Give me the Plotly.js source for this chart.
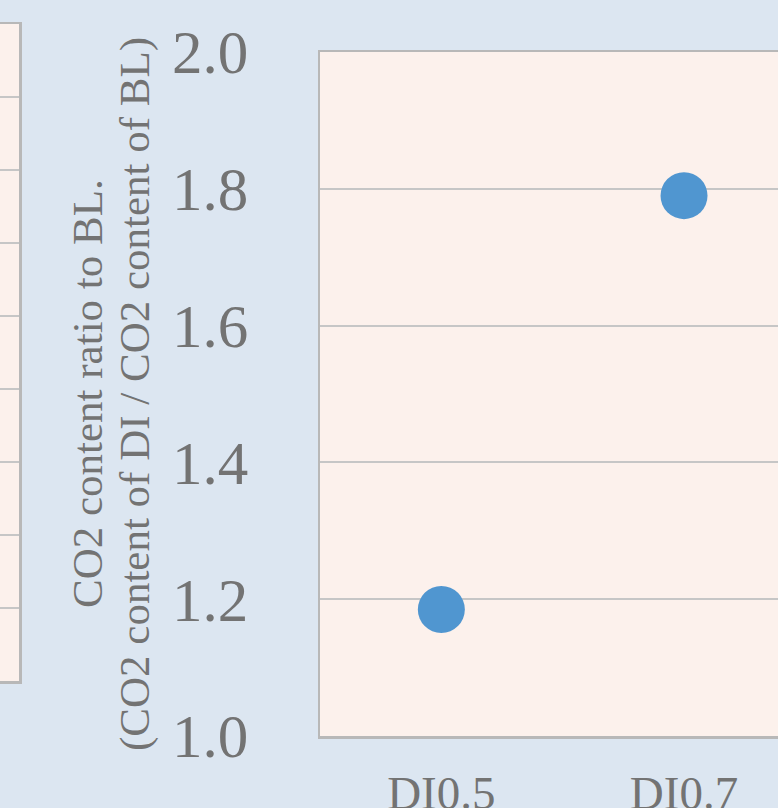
<!DOCTYPE html>
<html>
<head>
<meta charset="utf-8">
<script src="https://cdn.plot.ly/plotly-3.0.1.min.js"></script>
<style>
  html, body { margin: 0; padding: 0; overflow: hidden; background: #dce6f1; }
  #chart { position: absolute; left: -200px; top: 0; width: 1100px; height: 808px; }
</style>
</head>
<body>
<div id="chart"></div>
<script>
// values
var categories = ["DI0.5", "DI0.7"];
var co2Ratio = [1.185, 1.79];
var titleLines = ["CO2 content ratio to BL.", "(CO2 content of DI / CO2 content of BL)"];

var fontFamily = "Liberation Serif, Times New Roman, serif";
var grey = "#737373";

var trace = {
  x: categories,
  y: co2Ratio,
  type: "scatter",
  mode: "markers",
  marker: { color: "#5096d0", size: 47 },
  xaxis: "x",
  yaxis: "y",
  hoverinfo: "skip"
};

// neighbouring panel, only its edge is in view
var trace2 = {
  x: [],
  y: [],
  type: "scatter",
  mode: "markers",
  xaxis: "x2",
  yaxis: "y2"
};

var data = [trace, trace2];

// y title as two rotated lines (tight line spacing like the original)
var annotations = [
  {
    text: titleLines[0], textangle: -90, showarrow: false,
    xref: "paper", yref: "paper", x: 287 / 1100, y: 414 / 808,
    xanchor: "center", yanchor: "middle",
    font: { family: fontFamily, color: grey, size: 43 }
  },
  {
    text: titleLines[1], textangle: -90, showarrow: false,
    xref: "paper", yref: "paper", x: 335 / 1100, y: 414 / 808,
    xanchor: "center", yanchor: "middle",
    font: { family: fontFamily, color: grey, size: 43 }
  }
];

var layout = {
  width: 1100,
  height: 808,
  margin: { l: 0, r: 0, t: 0, b: 0 },
  paper_bgcolor: "#dce6f1",
  plot_bgcolor: "#fcf1ec",
  showlegend: false,
  font: { family: fontFamily, color: grey },
  annotations: annotations,
  xaxis: {
    domain: [520 / 1100, 1],
    type: "category",
    range: [-0.5, 1.89],
    showgrid: false,
    zeroline: false,
    showline: true,
    mirror: true,
    linecolor: "#b8b8b8",
    linewidth: 2.5,
    ticks: "",
    ticklabelstandoff: 14,
    tickfont: { family: fontFamily, color: grey, size: 47 }
  },
  yaxis: {
    domain: [72 / 808, 756 / 808],
    range: [1, 2],
    dtick: 0.2,
    tickformat: ".1f",
    showgrid: true,
    gridcolor: "#c6c6c6",
    gridwidth: 2,
    zeroline: false,
    showline: true,
    mirror: true,
    linecolor: "#b8b8b8",
    linewidth: 2.5,
    ticks: "",
    ticklabelstandoff: 57,
    tickfont: { family: fontFamily, color: grey, size: 61 }
  },
  xaxis2: {
    domain: [0, 219 / 1100],
    anchor: "y2",
    showgrid: false,
    zeroline: false,
    showticklabels: false,
    showline: true,
    mirror: true,
    linecolor: "#b8b8b8",
    linewidth: 2.5,
    range: [0, 1]
  },
  yaxis2: {
    domain: [127 / 808, 784 / 808],
    anchor: "x2",
    range: [0, 9],
    dtick: 1,
    showgrid: true,
    gridcolor: "#c6c6c6",
    gridwidth: 2,
    zeroline: false,
    showticklabels: false,
    showline: true,
    mirror: true,
    linecolor: "#b8b8b8",
    linewidth: 2.5
  }
};

var config = { staticPlot: true };

Plotly.newPlot("chart", data, layout, config);
</script>
</body>
</html>
